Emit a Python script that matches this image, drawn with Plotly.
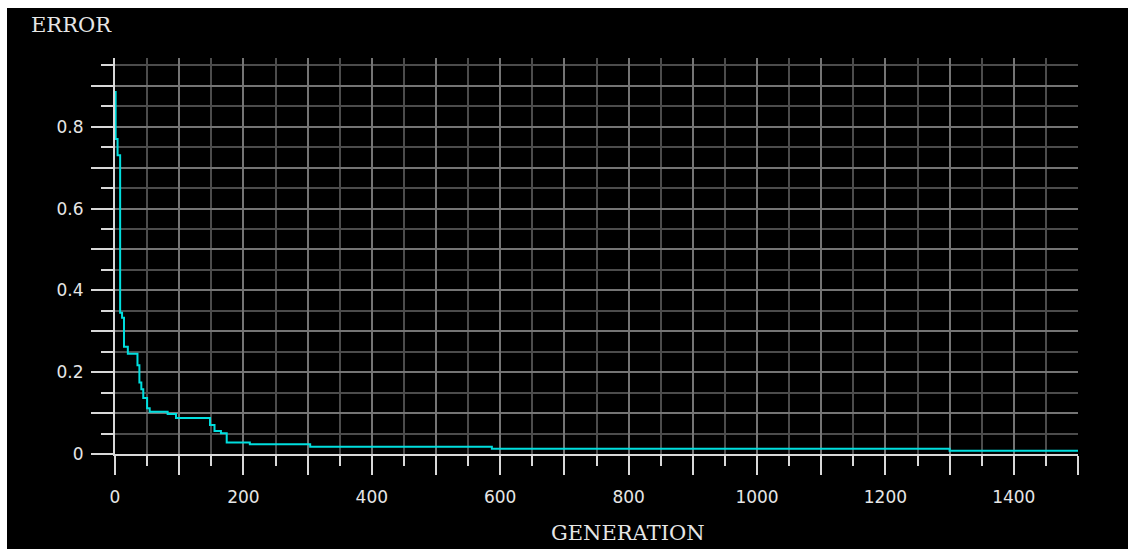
import plotly.graph_objects as go

# Data (step function of best error per generation)
generations = [0, 1, 4, 8, 11, 14, 20, 35, 38, 41, 44, 50, 54, 82, 95, 148, 155, 165, 174, 210, 304, 587, 1300, 1500]
errors = [0.885, 0.77, 0.73, 0.345, 0.333, 0.262, 0.245, 0.217, 0.175, 0.158, 0.137, 0.112, 0.103, 0.098, 0.088,
          0.071, 0.056, 0.051, 0.028, 0.024, 0.018, 0.013, 0.008, 0.008]

x_tickvals = list(range(0, 1501, 100))
x_ticktext = [str(v) if v % 200 == 0 else "" for v in x_tickvals]
y_tickvals = [round(i * 0.1, 1) for i in range(0, 10)]
y_ticktext = ["0", "", "0.2", "", "0.4", "", "0.6", "", "0.8", ""]

W, H = 1128, 549
L, R, T, B = 115, 50, 58, 95
pw, ph = W - L - R, H - T - B

def px_x(p):
    return (p - L) / pw

def px_y(p):
    return (H - B - p) / ph

fig = go.Figure()
fig.add_trace(go.Scatter(
    x=generations, y=errors, mode="lines",
    line=dict(color="#00dede", width=2, shape="hv"),
    hoverinfo="skip", showlegend=False,
))

tickfont = dict(family="DejaVu Sans", size=17, color="#e6e6e6")
fig.update_layout(
    width=W, height=H,
    margin=dict(l=L, r=R, t=T, b=B),
    paper_bgcolor="black", plot_bgcolor="black",
    xaxis=dict(
        range=[0, 1500], tickmode="array", tickvals=x_tickvals, ticktext=x_ticktext,
        ticks="outside", ticklen=19, tickwidth=2, tickcolor="#d8d8d8",
        showgrid=True, gridcolor="#747474", gridwidth=2,
        showline=True, linecolor="#d8d8d8", linewidth=2,
        zeroline=False, tickfont=tickfont, ticklabelstandoff=8,
        minor=dict(dtick=50, tick0=0, ticks="outside", ticklen=10, tickwidth=2, tickcolor="#d8d8d8",
                   showgrid=True, gridcolor="#4c4c4c", gridwidth=2),
    ),
    yaxis=dict(
        range=[0, 0.968], tickmode="array", tickvals=y_tickvals, ticktext=y_ticktext,
        ticks="outside", ticklen=22, tickwidth=2, tickcolor="#d8d8d8",
        showgrid=True, gridcolor="#747474", gridwidth=2,
        showline=True, linecolor="#d8d8d8", linewidth=2,
        zeroline=False, tickfont=tickfont, ticklabelstandoff=4,
        minor=dict(dtick=0.05, tick0=0, ticks="outside", ticklen=12, tickwidth=2, tickcolor="#d8d8d8",
                   showgrid=True, gridcolor="#4c4c4c", gridwidth=2),
    ),
    font=dict(family="DejaVu Sans", color="#e6e6e6"),
)

# white frame strips (top and left) around the black chart area
fig.add_shape(type="rect", xref="paper", yref="paper",
              x0=px_x(-5), x1=px_x(W + 5), y0=px_y(-5), y1=px_y(8),
              fillcolor="white", line=dict(width=0), layer="above")
fig.add_shape(type="rect", xref="paper", yref="paper",
              x0=px_x(-5), x1=px_x(7), y0=px_y(H + 5), y1=px_y(-5),
              fillcolor="white", line=dict(width=0), layer="above")

titlefont = dict(family="DejaVu Serif", size=21, color="#e6e6e6")
fig.add_annotation(text="ERROR", xref="paper", yref="paper",
                   x=px_x(29), y=px_y(25), xanchor="left", yanchor="middle",
                   showarrow=False, font=titlefont)
fig.add_annotation(text="GENERATION", xref="paper", yref="paper",
                   x=px_x(628), y=px_y(533), xanchor="center", yanchor="middle",
                   showarrow=False, font=titlefont)

fig.write_html("out.html")
